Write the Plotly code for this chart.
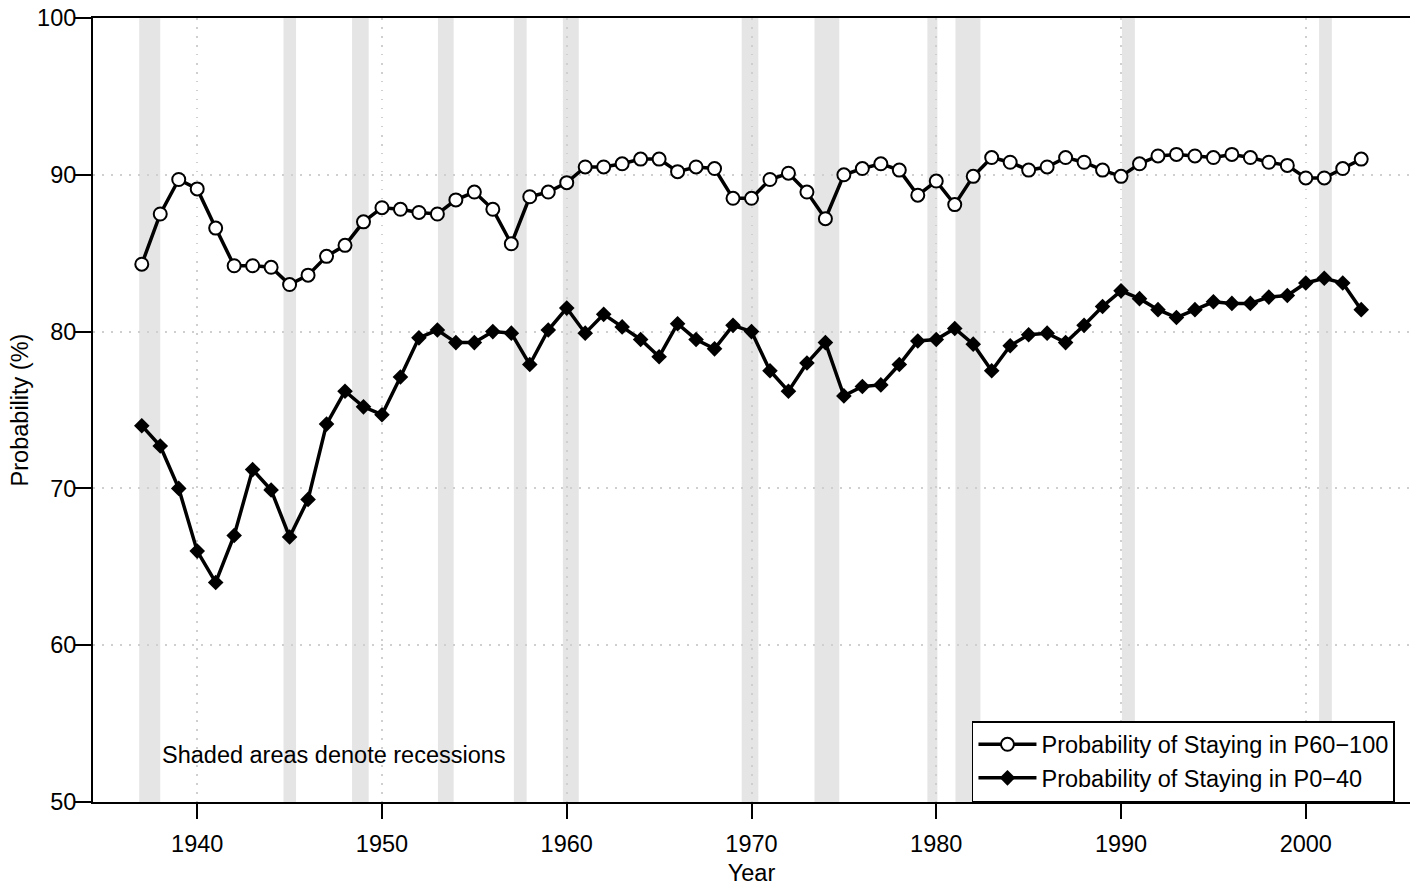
import plotly.graph_objects as go

years = list(range(1937, 2004))

p60_100 = [84.3, 87.5, 89.7, 89.1, 86.6, 84.2, 84.2, 84.1, 83.0, 83.6,
           84.8, 85.5, 87.0, 87.9, 87.8, 87.6, 87.5, 88.4, 88.9, 87.8,
           85.6, 88.6, 88.9, 89.5, 90.5, 90.5, 90.7, 91.0, 91.0, 90.2,
           90.5, 90.4, 88.5, 88.5, 89.7, 90.1, 88.9, 87.2, 90.0, 90.4,
           90.7, 90.3, 88.7, 89.6, 88.1, 89.9, 91.1, 90.8, 90.3, 90.5,
           91.1, 90.8, 90.3, 89.9, 90.7, 91.2, 91.3, 91.2, 91.1, 91.3,
           91.1, 90.8, 90.6, 89.8, 89.8, 90.4, 91.0]

p0_40 = [74.0, 72.7, 70.0, 66.0, 64.0, 67.0, 71.2, 69.9, 66.9, 69.3,
         74.1, 76.2, 75.2, 74.7, 77.1, 79.6, 80.1, 79.3, 79.3, 80.0,
         79.9, 77.9, 80.1, 81.5, 79.9, 81.1, 80.3, 79.5, 78.4, 80.5,
         79.5, 78.9, 80.4, 80.0, 77.5, 76.2, 78.0, 79.3, 75.9, 76.5,
         76.6, 77.9, 79.4, 79.5, 80.2, 79.2, 77.5, 79.1, 79.8, 79.9,
         79.3, 80.4, 81.6, 82.6, 82.1, 81.4, 80.9, 81.4, 81.9, 81.8,
         81.8, 82.2, 82.3, 83.1, 83.4, 83.1, 81.4]

rec_start = [1936.86, 1944.67, 1948.38, 1953.03, 1957.14, 1959.79,
             1969.47, 1973.41, 1979.52, 1981.04, 1990.05, 2000.72]
rec_end = [1938.0, 1945.35, 1949.28, 1953.88, 1957.83, 1960.65,
           1970.37, 1974.75, 1980.06, 1982.39, 1990.75, 2001.41]

x_ticks = [1940, 1950, 1960, 1970, 1980, 1990, 2000]
y_ticks = [50, 60, 70, 80, 90, 100]

FONT = "Liberation Sans, Arial, sans-serif"
FS = 23.5

fig = go.Figure()

fig.add_trace(go.Scatter(
    x=years, y=p60_100, mode="lines+markers",
    name="Probability of Staying in P60\u2212100",
    line=dict(color="black", width=3.5),
    marker=dict(symbol="circle", size=13, color="white",
                line=dict(color="black", width=2)),
))
fig.add_trace(go.Scatter(
    x=years, y=p0_40, mode="lines+markers",
    name="Probability of Staying in P0\u221240",
    line=dict(color="black", width=3.5),
    marker=dict(symbol="diamond", size=12, color="black",
                line=dict(color="black", width=0)),
))

shapes = []
for s, e in zip(rec_start, rec_end):
    shapes.append(dict(type="rect", xref="x", yref="paper", x0=s, x1=e,
                       y0=0, y1=1, fillcolor="#e5e5e5", line=dict(width=0),
                       layer="below"))

fig.update_layout(
    width=1410, height=886,
    margin=dict(l=93, r=0, t=18, b=84, autoexpand=False),
    paper_bgcolor="white", plot_bgcolor="white",
    font=dict(family=FONT, size=FS, color="black"),
    shapes=shapes,
    showlegend=True,
    legend=dict(
        x=0.6674, y=0.0, xanchor="left", yanchor="bottom",
        bgcolor="white", bordercolor="black", borderwidth=1.5,
        font=dict(family=FONT, size=FS, color="black"),
        itemwidth=58, tracegroupgap=0,
    ),
    annotations=[dict(
        x=1938, y=53, xref="x", yref="y", xanchor="left", yanchor="middle",
        text="Shaded areas denote recessions", showarrow=False,
        font=dict(family=FONT, size=FS, color="black"),
    )],
)

fig.update_xaxes(
    range=[1934.36, 2005.64], tickvals=x_ticks, automargin=False,
    ticks="outside", ticklen=15, tickwidth=1.5, tickcolor="black",
    ticklabelstandoff=5,
    showline=True, linecolor="black", linewidth=2, mirror=True,
    showgrid=True, gridcolor="#cfcfcf", gridwidth=1.5, griddash="1.5px,7.5px",
    zeroline=False,
    title=dict(text="Year", standoff=24, font=dict(family=FONT, size=FS)),
)
fig.update_yaxes(
    range=[50, 100], tickvals=y_ticks, automargin=False,
    ticks="outside", ticklen=16, tickwidth=1.5, tickcolor="black",
    ticklabelstandoff=-6,
    showline=True, linecolor="black", linewidth=2, mirror=False,
    showgrid=True, gridcolor="#cfcfcf", gridwidth=1.5, griddash="1.5px,7.5px",
    zeroline=False,
    title=dict(text="Probability (%)", standoff=2, font=dict(family=FONT, size=FS)),
)

fig.write_html(
    "out.html",
    config={"displayModeBar": False},
    post_script="document.body.style.margin='0';document.body.style.overflow='hidden';",
)
